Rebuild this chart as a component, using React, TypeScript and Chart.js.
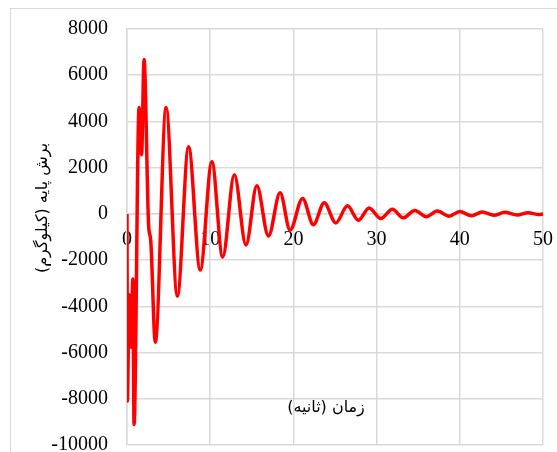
import React, { useEffect, useRef } from "react";
import { Chart, registerables } from "chart.js";

Chart.register(...registerables);

const times = [0, 0.05, 0.25, 0.5, 0.7, 0.85, 1.45, 1.75, 2.05, 2.6, 2.85, 3.4, 4.7, 6.05, 7.4, 8.8, 10.2, 11.5, 12.9, 14.3, 15.6, 17.0, 18.4, 19.6, 21.1, 22.4, 23.7, 25.1, 26.5, 27.8, 29.1, 30.5, 31.9, 33.2, 34.6, 36.0, 37.3, 38.7, 40.0, 41.4, 42.7, 44.1, 45.4, 46.9, 48.2, 49.5, 50];
const baseShear = [0, -8100, -3500, -5770, -2820, -9110, 4600, 2560, 6680, -500, -1130, -5550, 4600, -3560, 2910, -2430, 2260, -1870, 1690, -1350, 1215, -955, 910, -700, 670, -465, 480, -390, 350, -280, 260, -200, 200, -170, 150, -120, 120, -100, 100, -80, 80, -60, 70, -50, 50, -30, 0];

const xTicks = [0, 10, 20, 30, 40, 50];
const yTicks = [-10000, -8000, -6000, -4000, -2000, 0, 2000, 4000, 6000, 8000];

const xTitle = "زمان (ثانیه)";
const yTitle = "برش پایه (کیلوگرم)";

const GRID = "#d9d9d9";

export default function App() {
  const ref = useRef<HTMLCanvasElement | null>(null);

  useEffect(() => {
    document.body.style.margin = "0";
    const canvas = ref.current;
    if (!canvas) return;

    const decor = {
      id: "decor",
      beforeDraw(chart: any) {
        const ctx = chart.ctx;
        ctx.save();
        ctx.fillStyle = "#ffffff";
        ctx.fillRect(0, 0, chart.width, chart.height);
        ctx.strokeStyle = GRID;
        ctx.lineWidth = 1;
        ctx.strokeRect(10.5, 8.5, 600, 600);
        ctx.restore();
      },
      afterDraw(chart: any) {
        const ctx = chart.ctx;
        ctx.save();
        ctx.fillStyle = "#000000";
        ctx.direction = "rtl";
        ctx.textAlign = "center";
        ctx.textBaseline = "middle";
        ctx.font = '16px "DejaVu Sans"';
        ctx.fillText(xTitle, 326, 408);
        ctx.translate(43, 208);
        ctx.rotate(-Math.PI / 2);
        ctx.fillText(yTitle, 0, 0);
        ctx.restore();
      },
    };

    const chart = new Chart(canvas, {
      type: "line",
      data: {
        datasets: [
          {
            data: times.map((t, i) => ({ x: t, y: baseShear[i] })),
            borderColor: "#ff0000",
            borderWidth: 3.5,
            pointRadius: 0,
            fill: false,
            cubicInterpolationMode: "monotone",
          },
        ],
      },
      options: {
        animation: false,
        responsive: false,
        layout: { padding: { left: 0, right: 14, top: 29, bottom: 7 } },
        plugins: { legend: { display: false }, tooltip: { enabled: false } },
        scales: {
          x: {
            type: "linear",
            position: { y: 0 } as any,
            min: 0,
            max: 50,
            afterBuildTicks(scale: any) {
              scale.ticks = xTicks.map((v) => ({ value: v }));
            },
            afterFit(scale: any) {
              scale.height = 0;
              scale.paddingLeft = 0;
              scale.paddingRight = 0;
            },
            grid: { color: GRID, lineWidth: 1.5, drawTicks: false },
            border: { color: GRID, width: 1.5 },
            ticks: {
              color: "#000",
              padding: 14,
              maxRotation: 0,
              autoSkip: false,
              callback: (v: any) => String(v),
              font: { family: '"Liberation Serif"', size: 20 },
            },
          },
          y: {
            type: "linear",
            min: -10000,
            max: 8000,
            afterBuildTicks(scale: any) {
              scale.ticks = yTicks.map((v) => ({ value: v }));
            },
            afterFit(scale: any) {
              scale.width = 127;
              scale.paddingTop = 0;
              scale.paddingBottom = 0;
            },
            grid: { color: GRID, lineWidth: 1.5, drawTicks: false },
            border: { color: GRID, width: 1.5 },
            ticks: {
              color: "#000",
              padding: 19,
              autoSkip: false,
              callback: (v: any) => String(v),
              font: { family: '"Liberation Serif"', size: 20 },
            },
          },
        },
      },
      plugins: [decor],
    });

    return () => chart.destroy();
  }, []);

  return (
    <div style={{ position: "absolute", left: 0, top: 0, width: 557, height: 452 }}>
      <canvas ref={ref} width={557} height={452} />
    </div>
  );
}
